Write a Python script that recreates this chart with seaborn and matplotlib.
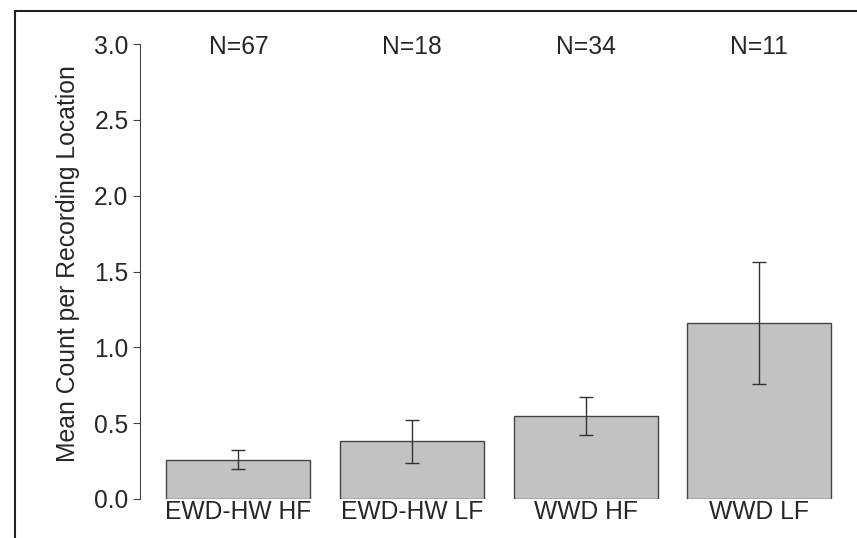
import pandas as pd
import matplotlib
matplotlib.use("Agg")
import matplotlib.pyplot as plt
from matplotlib.lines import Line2D
import seaborn as sns

groups = ["EWD-HW HF", "EWD-HW LF", "WWD HF", "WWD LF"]
mean_count = [0.26, 0.38, 0.545, 1.16]
err = [0.065, 0.14, 0.125, 0.40]
n_labels = ["N=67", "N=18", "N=34", "N=11"]
yticks = [0.0, 0.5, 1.0, 1.5, 2.0, 2.5, 3.0]

df = pd.DataFrame({"group": groups, "mean": mean_count, "err": err})

sns.set_style("white")
plt.rcParams["font.family"] = ["Liberation Sans", "DejaVu Sans"]

W, H = 857, 538
left, right, top, bottom = 139.5, 846, 44, 499
fig = plt.figure(figsize=(W / 100, H / 100), dpi=100)
ax = fig.add_axes([left / W, 1 - bottom / H, (right - left) / W, (bottom - top) / H])

sns.barplot(data=df, x="group", y="mean", color="#c2c2c2", saturation=1,
            edgecolor="#444444", linewidth=1.0, width=0.83, errorbar=None, ax=ax)
ax.errorbar(range(len(groups)), df["mean"], yerr=df["err"], fmt="none",
            ecolor="#333333", elinewidth=1.0, capsize=4.7, capthick=1.0)

for i, lab in enumerate(n_labels):
    ax.text(i, 2.98, lab, ha="center", va="center", fontsize=17.7)

ax.set_xlim(-0.57, 3.5)
ax.set_ylim(0, 3.0)
ax.set_yticks(yticks)
ax.set_yticklabels([f"{t:.1f}" for t in yticks], fontsize=17.7)
ax.tick_params(axis="y", direction="out", length=5, width=0.8, color="#444444", pad=3, left=True)
ax.tick_params(axis="x", length=0, pad=1, labelsize=17.7)
ax.set_xlabel("")
ax.set_ylabel("Mean Count per Recording Location", fontsize=17.8)
ax.yaxis.set_label_coords((80 - left) / (right - left), (bottom - 264) / (bottom - top))

for s in ["top", "right", "bottom"]:
    ax.spines[s].set_visible(False)
ax.spines["left"].set_color("#444444")
ax.spines["left"].set_linewidth(0.8)

# scan frame
fig.add_artist(Line2D([15 / W, 15 / W], [0, 1 - 11 / H], color="#222222", lw=1.5))
fig.add_artist(Line2D([15 / W, 1], [1 - 11 / H, 1 - 11 / H], color="#222222", lw=1.5))

fig.savefig("out.png", dpi=100)
